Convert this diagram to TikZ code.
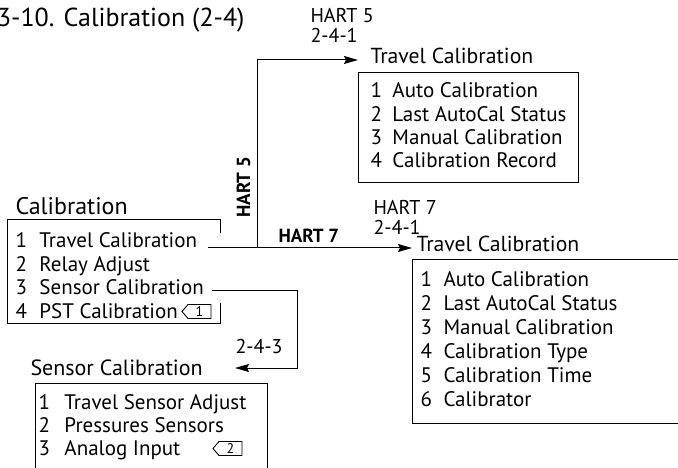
\documentclass[tikz,border=0pt]{standalone}
\usepackage{fontspec}
\setmainfont{PT Sans}
\usetikzlibrary{arrows.meta,calc}
\tikzset{
  menu/.style={anchor=base west, inner sep=0pt, font=\fontsize{21bp}{24bp}\selectfont},
  head/.style={menu, font=\fontsize{21.7bp}{24bp}\selectfont},
  small/.style={anchor=base west, inner sep=0pt, font=\fontsize{20bp}{22bp}\selectfont},
  hart/.style={inner sep=0pt, font=\fontsize{19bp}{22bp}\selectfont\bfseries},
  flow/.style={-{Stealth[length=14bp,width=8bp,inset=2bp]}},
  pics/notetag/.style={code={
    \draw[line width=0.9bp] (-15,0) -- (-9,-7) -- (14,-7) -- (14,7) -- (-9,7) -- cycle;
    \node[inner sep=0pt, font=\fontsize{14bp}{15bp}\selectfont] (-n) at (2.5,0) {#1};
  }}
}
\begin{document}
\begin{tikzpicture}[x=1bp, y=-1bp, line width=1bp]
\useasboundingbox (0,0) rectangle (678,468);
\begin{scope}
\clip (0,0) rectangle (678,468);

% title
\node[anchor=base east, inner sep=0pt, font=\fontsize{26bp}{30bp}\selectfont] (title) at (245,27) {3-10. Calibration (2-4)};

% main menu
\node[head, font=\fontsize{24bp}{26bp}\selectfont] (hdCal) at (15,215) {Calibration};
\foreach \t [count=\i] in {Travel Calibration, Relay Adjust, Sensor Calibration, PST Calibration}
  \node[menu] (cal\i) at (15,{248+23.5*(\i-1)}) {\makebox[24bp][l]{\i}\t};
\draw (220,233) -- (220,220) -- (7,220) -- (7,323) -- (220,323) -- (220,303);
\pic (tagA) at (197,311.5) {notetag=1};

% travel calibration, HART 5
\node[small] (h5) at (310,23) {HART 5};
\node[small] (h5p) at (310,43) {2-4-1};
\node[head] (hdT5) at (370,64) {Travel Calibration};
\foreach \t [count=\i] in {Auto Calibration, Last AutoCal Status, Manual Calibration, Calibration Record}
  \node[menu] (tfive\i) at (370,{98+23.3*(\i-1)}) {\makebox[22bp][l]{\i}\t};
\draw (358,73) rectangle (578,183);

% travel calibration, HART 7
\node[small] (h7) at (373,215) {HART 7};
\node[small] (h7p) at (373,235) {2-4-1};
\node[head] (hdT7) at (416,252) {Travel Calibration};
\foreach \t [count=\i] in {Auto Calibration, Last AutoCal Status, Manual Calibration, Calibration Type, Calibration Time, Calibrator}
  \node[menu] (tseven\i) at (420,{287+23.8*(\i-1)}) {\makebox[23bp][l]{\i}\t};
\draw (680,260) -- (412,260) -- (412,423) -- (680,423);

% sensor calibration
\node[small] (s3) at (235,353) {2-4-3};
\node[head, font=\fontsize{22bp}{24bp}\selectfont] (hdSen) at (30,375) {Sensor Calibration};
\foreach \t [count=\i] in {Travel Sensor Adjust, Pressures Sensors, Analog Input}
  \node[menu] (sen\i) at (38,{409+23*(\i-1)}) {\makebox[26bp][l]{\i}\t};
\draw (35,470) -- (35,383) -- (267,383) -- (267,470);
\pic (tagB) at (228,448.5) {notetag=2};

% connectors
\coordinate (c1) at (208,248);
\coordinate (fork) at (257,248);
\coordinate (c3) at (212,291);
\coordinate (sIn) at (235,368);
\draw[flow] (c1) -- (c1 -| {$(hdT7.base west)+(-4,0)$});
\draw[flow] (fork) |- ($(hdT5.base west)+(-12,-4)$);
\draw[flow] (c3) -| (297,368) -- (sIn);
\node[hart, rotate=90, anchor=base west] (lb5) at (250,218) {HART 5};
\node[hart, anchor=base west] (lb7) at (278,243) {HART 7};
\end{scope}
\end{tikzpicture}
\end{document}
